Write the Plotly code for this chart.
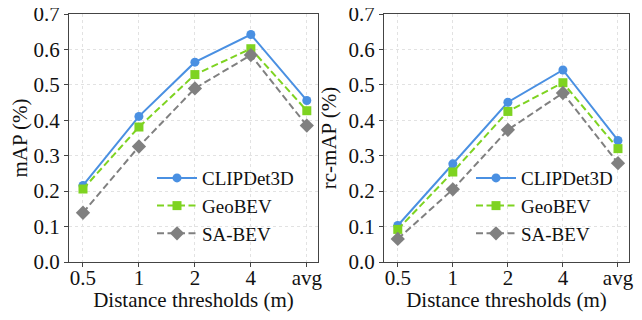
import plotly.graph_objects as go

categories = ["0.5", "1", "2", "4", "avg"]
series_names = ["CLIPDet3D", "GeoBEV", "SA-BEV"]

map_clipdet3d = [0.216, 0.411, 0.564, 0.642, 0.456]
map_geobev = [0.206, 0.381, 0.529, 0.602, 0.427]
map_sabev = [0.139, 0.326, 0.490, 0.584, 0.385]

rcmap_clipdet3d = [0.103, 0.277, 0.451, 0.542, 0.343]
rcmap_geobev = [0.092, 0.254, 0.425, 0.506, 0.320]
rcmap_sabev = [0.065, 0.205, 0.373, 0.477, 0.279]

y_ticks = [0.0, 0.1, 0.2, 0.3, 0.4, 0.5, 0.6, 0.7]

colors = ["#4a90e2", "#7ed321", "#808080"]
dashes = ["solid", "7px,3.5px", "7px,3.5px"]
symbols = ["circle", "square", "diamond"]
msizes = [9, 9, 11]

FONT = "Liberation Serif"
OFF = 8                 # page body margin
W, H = 642 - 2 * OFF, 320 - 2 * OFF
TOP, BOTTOM = 14, 262   # plot area top/bottom in page pixels

fig = go.Figure()

panels = [
    ([map_clipdet3d, map_geobev, map_sabev], "x", "y", "legend"),
    ([rcmap_clipdet3d, rcmap_geobev, rcmap_sabev], "x2", "y2", "legend2"),
]

for vals, xa, ya, leg in panels:
    for i, name in enumerate(series_names):
        fig.add_trace(go.Scatter(
            x=categories, y=vals[i], name=name, mode="lines+markers",
            xaxis=xa, yaxis=ya, legend=leg, legendgroup=f"{leg}-{name}",
            line=dict(color=colors[i], width=2, dash=dashes[i]),
            marker=dict(symbol=symbols[i], size=msizes[i], color=colors[i]),
        ))

axis_common = dict(
    showline=True, linecolor="#444444", linewidth=1.3, mirror=True,
    ticks="outside", ticklen=4, tickcolor="#444444", tickwidth=1,
    showgrid=True, gridcolor="#e2e2e2", gridwidth=1, griddash="dot",
    tickfont=dict(family=FONT, size=21, color="#111111"),
    zeroline=False, ticklabeloverflow="allow",
)

xcommon = dict(axis_common, type="category", categoryorder="array",
               categoryarray=categories, range=[-0.25, 4.2],
               ticklabelstandoff=-7,
               title=dict(text="Distance thresholds (m)",
                          font=dict(family=FONT, size=21, color="#111111"),
                          standoff=9))

def ycommon(title, anchor):
    return dict(axis_common, range=[0, 0.7], tickvals=y_ticks,
                ticktext=[f"{v:.1f}" for v in y_ticks], anchor=anchor,
                title=dict(text=title, font=dict(family=FONT, size=21, color="#111111"),
                           standoff=6))

def px(v):
    return (v - OFF) / W

legend_common = dict(xanchor="left", yanchor="bottom", bgcolor="rgba(0,0,0,0)",
                     font=dict(family=FONT, size=19, color="#111111"),
                     itemwidth=40, tracegroupgap=0)

fig.update_layout(
    width=W, height=H,
    margin=dict(l=0, r=0, t=TOP - OFF, b=H - (BOTTOM - OFF), autoexpand=False),
    paper_bgcolor="white", plot_bgcolor="white",
    xaxis=dict(xcommon, domain=[px(69), px(318)], anchor="y"),
    yaxis=ycommon("mAP (%)", "x"),
    xaxis2=dict(xcommon, domain=[px(384), px(629)], anchor="y2"),
    yaxis2=ycommon("rc-mAP (%)", "x2"),
    legend=dict(legend_common, x=px(152), y=0.036),
    legend2=dict(legend_common, x=px(471), y=0.036),
    showlegend=True,
)

fig.write_html("out.html")
